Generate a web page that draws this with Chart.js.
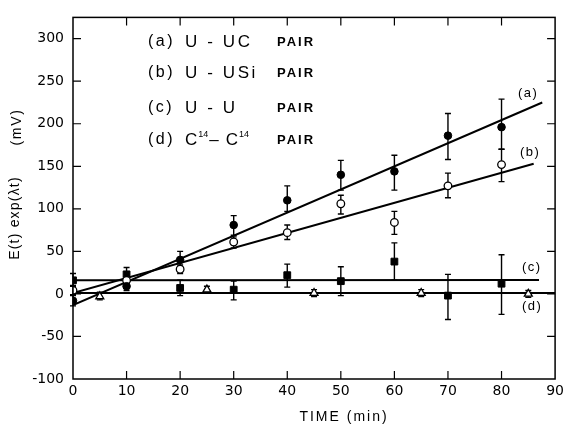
<!DOCTYPE html>
<html>
<head>
<meta charset="utf-8">
<script src="https://cdn.jsdelivr.net/npm/chart.js@4.4.0/dist/chart.umd.min.js"></script>
<style>
  html, body { margin: 0; padding: 0; background: #fff; }
  #wrap { width: 568px; height: 425px; }
</style>
</head>
<body>
<div id="wrap"><canvas id="myChart" width="568" height="425"></canvas></div>
<script>
// time (min)
const times = [0, 10, 20, 30, 40, 50, 60, 70, 80];
const timesD = [5, 25, 45, 65, 85];

// (a) U - UC pair, filled circles
const valA = [-8, 9, 40, 81, 110, 140, 144, 186, 196];
const hiA = [-2, 14, 50, 92, 127, 157, 163, 212, 229];
const loA = [-14, 4, 32, 69, 97, 122, 122, 158, 170];

// (b) U - USi pair, open circles
const valB = [4, 16, 29, 61, 72, 106, 84, 127, 152];
const hiB = [9, 20, 34, 67, 81, 116, 97, 142, 170];
const loB = [-1, 12, 24, 54, 64, 94, 70, 113, 132];

// (c) U - U pair, filled squares
const valC = [16, 23, 7, 5, 22, 15, 38, -2, 12];
const hiC = [24, 31, 16, 15, 35, 32, 60, 23, 46];
const loC = [10, 15, -2, -7, 8, -2, 16, -30, -24];

// (d) C14 - C14 pair, open triangles
const valD = [-3, 5, 1, 1, 0];
const hiD = [2, 9, 5, 5, 4];
const loD = [-7, 1, -3, -3, -4];

// fitted lines (start, end)
const fitAx = [0, 87.6], fitAy = [-13, 225];
const fitBx = [0, 86], fitBy = [1, 153];
const fitCx = [0, 87], fitCy = [16, 16.5];
const fitDx = [0, 90], fitDy = [1, 1];

const lineLabels = ['(a)', '(b)', '(c)', '(d)'];

function pts(xs, ys) {
    return xs.map((x, i) => ({ x: x, y: ys[i] }));
}

function fit(xs, ys) {
    return {
        data: pts(xs, ys),
        showLine: true,
        borderColor: '#000',
        borderWidth: 2,
        pointRadius: 0,
        order: 2
    };
}

Chart.defaults.font.family = 'DejaVu Sans';
Chart.defaults.color = '#000';

const errorBars = {
    id: 'errorBars',
    beforeDatasetsDraw(chart) {
        const ctx = chart.ctx;
        const xs = chart.scales.x, ys = chart.scales.y;
        ctx.save();
        ctx.strokeStyle = '#000';
        ctx.lineWidth = 1.4;
        chart.data.datasets.forEach(ds => {
            if (!ds.errLo) return;
            ds.data.forEach((p, i) => {
                const x = xs.getPixelForValue(p.x);
                const y1 = ys.getPixelForValue(ds.errLo[i]);
                const y2 = ys.getPixelForValue(ds.errHi[i]);
                ctx.beginPath();
                ctx.moveTo(x, y1); ctx.lineTo(x, y2);
                ctx.moveTo(x - 3, y1); ctx.lineTo(x + 3, y1);
                ctx.moveTo(x - 3, y2); ctx.lineTo(x + 3, y2);
                ctx.stroke();
            });
        });
        ctx.restore();
    }
};

// box with inward ticks on all four sides
const frame = {
    id: 'frame',
    afterDraw(chart) {
        const ctx = chart.ctx;
        const a = chart.chartArea;
        const xs = chart.scales.x, ys = chart.scales.y;
        ctx.save();
        ctx.strokeStyle = '#000';
        ctx.lineWidth = 1.5;
        ctx.strokeRect(a.left, a.top, a.right - a.left, a.bottom - a.top);
        ctx.lineWidth = 1.2;
        ctx.beginPath();
        xs.ticks.forEach(t => {
            if (t.value <= xs.min || t.value >= xs.max) return;
            const x = xs.getPixelForValue(t.value);
            ctx.moveTo(x, a.bottom); ctx.lineTo(x, a.bottom - 8);
            ctx.moveTo(x, a.top); ctx.lineTo(x, a.top + 8);
        });
        ys.ticks.forEach(t => {
            if (t.value <= ys.min || t.value >= ys.max) return;
            const y = ys.getPixelForValue(t.value);
            ctx.moveTo(a.left, y); ctx.lineTo(a.left + 8, y);
            ctx.moveTo(a.right, y); ctx.lineTo(a.right - 8, y);
        });
        ctx.stroke();
        ctx.restore();
    }
};

function txt(ctx, s, x, y, size, spacing, weight) {
    ctx.font = (weight || 'normal') + ' ' + size + 'px "Liberation Sans"';
    ctx.letterSpacing = spacing + 'px';
    ctx.fillText(s, x, y);
    return x + ctx.measureText(s).width;
}

const texts = {
    id: 'texts',
    afterDraw(chart) {
        const ctx = chart.ctx;
        ctx.save();
        ctx.fillStyle = '#000';
        ctx.textBaseline = 'middle';
        ctx.textAlign = 'left';

        // key
        const rows = [42, 73, 108, 140];
        const tags = ['(a)', '(b)', '(c)', '(d)'];
        const names = ['U - UC', 'U - USi', 'U - U'];
        rows.forEach((y, i) => {
            txt(ctx, tags[i], 148, y, 16, 2.5);
            if (i < 3) {
                txt(ctx, names[i], 185, y, 17, 2.6);
            } else {
                let x = txt(ctx, 'C', 185, y, 17, 1);
                x = txt(ctx, '14', x, y - 5, 9, 0);
                x = txt(ctx, '–', x + 1, y, 17, 0);
                x = txt(ctx, 'C', x + 7, y, 17, 1);
                txt(ctx, '14', x, y - 5, 9, 0);
            }
            txt(ctx, 'PAIR', 277, y, 13, 2, 'bold');
        });

        // labels at line ends
        const lx = [518, 520, 522, 522];
        const ly = [93, 152, 267, 306];
        lineLabels.forEach((s, i) => txt(ctx, s, lx[i], ly[i], 13, 1.5));

        // axis titles
        ctx.textAlign = 'center';
        txt(ctx, 'TIME (min)', 344, 417, 14, 2);
        ctx.translate(15, 218);
        ctx.rotate(-Math.PI / 2);
        txt(ctx, 'E(t) exp(λt)', 0, 0, 14, 1.2);
        txt(ctx, '(mV)', 91, 2, 14, 1.7);
        ctx.restore();
    }
};

const ctx = document.getElementById('myChart').getContext('2d');
new Chart(ctx, {
    type: 'scatter',
    data: {
        datasets: [
            {
                data: pts(times, valA), errLo: loA, errHi: hiA,
                pointStyle: 'circle', pointRadius: 3.8,
                backgroundColor: '#000', borderColor: '#000', borderWidth: 1, order: 1
            },
            {
                data: pts(times, valB), errLo: loB, errHi: hiB,
                pointStyle: 'circle', pointRadius: 3.8,
                backgroundColor: '#fff', borderColor: '#000', borderWidth: 1.3, order: 1
            },
            {
                data: pts(times, valC), errLo: loC, errHi: hiC,
                pointStyle: 'rect', pointRadius: 4.8,
                backgroundColor: '#000', borderColor: '#000', borderWidth: 1, order: 1
            },
            {
                data: pts(timesD, valD), errLo: loD, errHi: hiD,
                pointStyle: 'triangle', pointRadius: 4.6,
                backgroundColor: '#fff', borderColor: '#000', borderWidth: 1.3, order: 1
            },
            fit(fitAx, fitAy),
            fit(fitBx, fitBy),
            fit(fitCx, fitCy),
            fit(fitDx, fitDy)
        ]
    },
    options: {
        responsive: false,
        animation: false,
        layout: { padding: { top: 13, right: 9, left: 0, bottom: 0 } },
        plugins: {
            legend: { display: false },
            tooltip: { enabled: false }
        },
        scales: {
            x: {
                type: 'linear',
                min: 0,
                max: 90,
                ticks: { stepSize: 10, padding: 4, font: { size: 14 }, color: '#000' },
                grid: { display: false, drawTicks: false },
                border: { display: false },
                afterFit(s) { s.height = 46; }
            },
            y: {
                type: 'linear',
                min: -100,
                max: 325,
                ticks: { stepSize: 50, padding: 9, includeBounds: false, font: { size: 14 }, color: '#000' },
                grid: { display: false, drawTicks: false },
                border: { display: false },
                afterFit(s) { s.width = 73; }
            }
        }
    },
    plugins: [errorBars, frame, texts]
});
</script>
</body>
</html>
